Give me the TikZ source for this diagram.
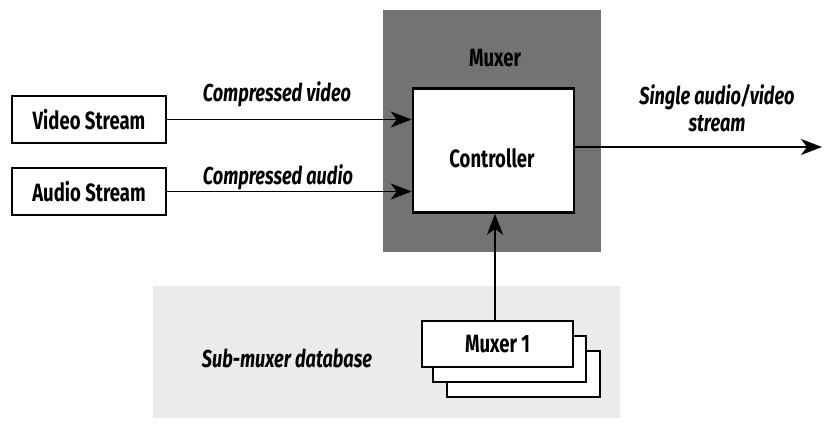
\documentclass[tikz,border=0pt]{standalone}
\usepackage{fontspec}
\setmainfont{Fira Sans}[FakeStretch=0.74]
\usetikzlibrary{arrows.meta, positioning}
\definecolor{cdark}{HTML}{737373}
\definecolor{clight}{HTML}{EBEBEB}
\tikzset{
  every picture/.style={font=\bfseries, line width=1.6pt},
  box/.style={draw=black, fill=white, line width=2.6pt, align=center, font=\fontsize{25}{28}\selectfont\bfseries, inner sep=0pt},
  arrow/.style={-{Stealth[length=21pt, width=16pt, inset=6pt]}, draw=black, line width=1.7pt},
  label/.style={font=\fontsize{24.5}{27}\selectfont\bfseries\itshape, align=center},
  area/.style={draw=none, fill=#1, inner sep=0pt},
}
\begin{document}
\begin{tikzpicture}[x=1pt, y=-1pt]
  \useasboundingbox (0,0) rectangle (824,424);
  \node[area=cdark, minimum width=218pt, minimum height=242pt] (mux) at (492,131) {};
  \node[area=clight, minimum width=467pt, minimum height=132pt] (db) at (386.5,352) {};
  \node[font=\fontsize{25}{28}\selectfont\bfseries] (muxlbl) at (495,58) {Muxer};
  \node[box, minimum width=154pt, minimum height=47pt] (vid) at (89,119.5) {Video Stream};
  \node[box, minimum width=154pt, minimum height=47pt] (aud) at (89,191.5) {Audio Stream};
  \node[box, minimum width=161pt, minimum height=124pt] (ctrl) at (493.5,150.5) {};
  \node[font=\fontsize{25}{28}\selectfont\bfseries] (ctrllbl) at (492,158) {Controller};
  \node[box, minimum width=153pt, minimum height=46pt] (m3) at (523.5,374) {};
  \node[box, minimum width=153pt, minimum height=46pt] (m2) at (509.5,359) {};
  \node[box, minimum width=151pt, minimum height=46pt] (m1) at (497.5,344) {Muxer 1};
  \node[label] (cvid) at (277,94) {Compressed video};
  \node[label] (caud) at (278,177) {Compressed audio};
  \node[label] (single) at (717,108) {Single audio/video\\stream};
  \node[label] (dblbl) at (287,358) {Sub-muxer database};
  \coordinate (out) at (822,147);
  \coordinate (up) at (495,0);
  \draw[arrow] (vid.east) -- (vid.east -| ctrl.west);
  \draw[arrow] (aud.east) -- (aud.east -| ctrl.west);
  \draw[arrow] (ctrl.east |- out) -- (out);
  \draw[arrow] (m1.north -| up) -- (ctrl.south -| up);
\end{tikzpicture}
\end{document}
